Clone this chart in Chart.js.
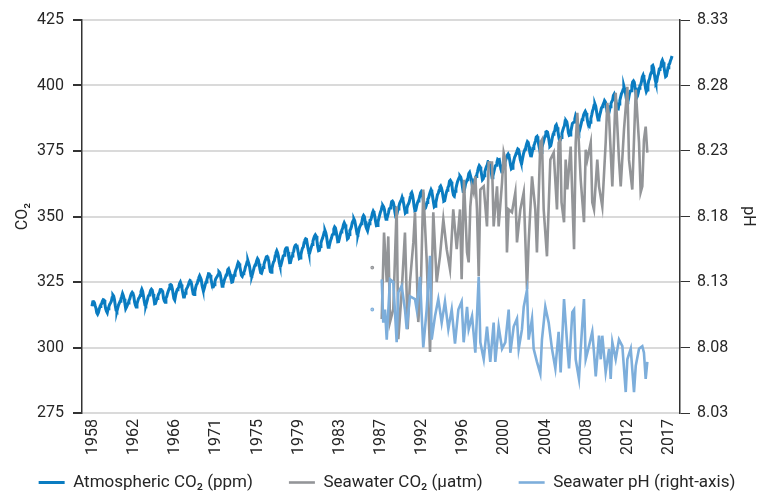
<!DOCTYPE html>
<html><head><meta charset="utf-8">
<script src="https://cdn.jsdelivr.net/npm/chart.js@4.4.1/dist/chart.umd.min.js"></script>
<style>html,body{margin:0;padding:0;background:#fff;} #wrap{width:774px;height:495px;}</style>
</head><body><div id="wrap"><canvas id="c" width="774" height="495"></canvas></div>
<script>
// Atmospheric CO2 (ppm), monthly from March 1958
const atmStartYear = 1958, atmStartMonth = 3;
const atmCO2 = [
315.71,317.45,317.50,317.10,315.86,314.93,313.20,312.66,313.33,314.67,
315.62,316.38,316.71,317.72,318.29,318.15,316.54,314.80,313.84,313.26,314.80,315.58,
316.43,316.97,317.58,319.02,320.03,319.59,318.18,315.91,314.16,313.83,315.00,316.19,
316.93,317.70,318.54,319.48,320.58,319.77,318.57,316.79,314.80,315.38,316.10,317.01,
317.94,318.55,319.68,320.57,321.02,320.62,319.61,317.40,316.25,315.42,316.69,317.70,
318.74,319.07,319.86,321.38,322.25,321.48,319.74,317.77,316.21,315.99,317.12,318.31,
319.57,320.07,320.73,321.77,322.25,321.89,320.44,318.70,316.70,316.79,317.79,318.71,
319.44,320.44,320.89,322.13,322.16,321.87,321.39,318.81,317.81,317.30,318.87,319.42,
320.62,321.59,322.39,323.87,324.01,323.75,322.39,320.37,318.64,318.10,319.79,321.08,
322.07,322.50,323.04,324.42,325.00,324.09,322.55,320.92,319.31,319.31,320.72,321.96,
322.57,323.15,323.89,325.02,325.57,325.36,324.14,322.03,320.41,320.25,321.31,322.84,
324.00,324.42,325.64,326.66,327.38,326.70,325.89,323.67,322.38,321.78,322.85,324.12,
325.03,325.99,326.87,328.13,328.07,327.66,326.35,324.69,323.10,323.16,323.98,325.13,
326.17,326.68,327.18,327.78,328.92,328.57,327.34,325.46,323.36,323.57,324.80,326.01,
326.77,327.63,327.75,329.72,330.07,329.09,328.05,326.32,324.93,325.06,326.50,327.55,
328.54,329.56,330.30,331.50,332.48,332.07,330.87,329.31,327.51,327.18,328.16,328.64,
329.35,330.71,331.48,332.65,333.19,332.16,331.07,329.12,327.32,327.28,328.30,329.58,
330.73,331.46,331.90,333.17,333.94,333.45,331.98,329.95,328.50,328.34,329.37,330.58,
331.59,332.75,333.52,334.64,334.77,334.00,333.06,330.68,328.95,328.75,330.15,331.62,
332.66,333.13,334.95,336.13,336.93,336.17,334.88,332.56,331.29,331.27,332.41,333.60,
334.95,335.25,336.66,337.69,338.03,338.01,336.41,334.41,332.37,332.41,333.75,334.90,
336.14,336.69,338.27,338.96,339.21,339.26,337.54,335.75,333.98,334.19,335.31,336.81,
337.90,338.34,340.01,340.93,341.48,341.33,339.40,337.70,336.19,336.15,337.27,338.32,
339.29,340.55,341.61,342.53,343.03,342.54,340.78,338.44,336.95,337.08,338.58,339.88,
340.96,341.73,342.81,343.97,344.63,343.79,342.32,340.09,338.28,338.29,339.60,340.90,
341.68,342.90,343.33,345.25,346.03,345.63,344.19,342.27,340.35,340.38,341.59,343.05,
344.10,344.79,345.52,346.84,347.63,346.98,345.53,343.55,341.40,341.67,343.10,344.70,
345.21,346.16,347.74,348.34,349.06,348.38,346.72,345.02,343.27,343.13,344.49,345.88,
346.56,347.28,348.01,349.77,350.38,349.93,348.16,346.08,345.22,344.51,345.93,347.21,
348.52,348.73,349.73,351.31,352.09,351.53,350.11,348.08,346.52,346.59,347.96,349.16,
350.39,351.64,352.41,353.69,354.21,353.72,352.69,350.40,348.92,349.13,350.20,351.41,
352.91,353.27,353.96,355.64,355.86,355.37,353.99,351.81,350.05,350.25,351.49,352.85,
353.80,355.04,355.73,356.32,357.32,356.34,354.84,353.01,351.31,351.62,353.07,354.33,
354.84,355.73,357.23,358.66,359.13,358.13,356.19,353.85,352.25,352.35,353.81,355.12,
355.89,356.63,357.72,359.07,359.58,359.17,356.94,354.92,352.94,353.23,354.09,355.33,
356.63,357.10,358.32,359.41,360.23,359.55,357.53,355.48,353.67,353.95,355.30,356.78,
358.34,358.89,359.95,361.25,361.67,360.94,359.55,357.49,355.84,356.00,357.59,359.05,
359.98,361.03,361.66,363.48,363.82,363.30,361.94,359.50,358.11,357.80,359.61,360.74,
362.09,363.29,364.06,364.76,365.45,365.01,363.70,361.54,359.51,359.65,360.80,362.38,
363.23,364.06,364.61,366.40,366.84,365.68,364.52,362.57,360.24,360.83,362.49,364.34,
365.27,365.98,367.24,368.66,369.42,368.99,367.82,365.95,364.02,364.40,365.52,367.13,
368.18,369.07,369.68,370.99,370.96,370.30,369.45,366.90,364.81,365.37,366.72,368.10,
369.29,369.54,370.60,371.82,371.58,371.70,369.86,368.13,367.00,367.03,368.37,369.67,
370.59,371.51,372.43,373.37,373.85,373.22,371.50,369.61,368.18,368.45,369.76,371.24,
372.53,373.20,374.12,375.02,375.76,375.52,374.01,371.85,370.75,370.55,372.25,373.79,
374.88,375.64,376.45,377.73,378.60,378.28,376.70,374.38,373.17,373.14,374.66,375.99,
377.00,377.87,378.88,380.35,380.62,379.69,377.47,376.01,374.25,374.46,376.16,377.51,
378.46,379.73,380.77,382.29,382.45,382.21,380.74,378.74,376.70,377.00,378.35,380.11,
381.38,382.19,382.67,384.61,385.03,384.05,382.46,380.41,378.85,379.13,380.15,381.82,
382.89,383.90,384.58,386.50,386.56,386.10,384.50,381.99,380.96,381.12,382.45,383.95,
385.52,385.82,386.03,387.21,388.54,387.76,386.36,384.09,383.18,382.99,384.19,385.56,
386.94,387.48,388.82,389.55,390.14,389.48,388.03,386.11,384.74,384.43,386.02,387.42,
388.71,390.20,391.17,392.46,393.00,392.15,390.20,388.35,386.85,387.24,388.67,389.79,
391.33,391.86,392.60,393.25,394.19,393.74,392.51,390.13,389.08,389.00,390.28,391.86,
393.12,393.86,394.40,396.18,396.74,395.71,394.36,392.39,391.11,391.05,392.98,394.34,
395.55,396.80,397.43,398.41,399.78,398.60,397.32,395.20,393.45,393.70,395.16,396.84,
397.85,398.01,399.77,401.38,401.78,401.25,399.10,397.03,395.38,396.03,397.28,398.91,
399.98,400.28,401.54,403.28,403.96,402.80,401.31,398.93,397.63,398.29,400.16,401.85,
402.52,404.04,404.83,407.42,407.70,406.81,404.39,402.25,401.03,401.57,403.53,404.42,
406.07,406.64,407.05,408.95,409.65,408.84,407.07,405.07,403.38,403.64,405.14,406.81,
407.96,408.32,409.41,410.24,411.24
];

// Seawater CO2 (µatm)
const swYears = [1987.24,
1988.22,1988.46,1988.74,1988.90,1989.08,1989.42,1989.77,1989.94,1990.29,1990.63,1990.91,1991.15,1991.50,1991.67,
1992.01,1992.29,1992.53,1992.88,1993.23,1993.57,1993.92,1994.26,1994.61,1994.96,1995.30,1995.64,1996.00,1996.34,
1996.51,1996.75,1997.07,1997.24,1997.41,1997.59,1997.76,1997.93,1998.10,1998.28,1998.45,1998.80,1999.14,1999.31,
1999.66,1999.83,2000.00,2000.18,2000.35,2000.70,2000.87,2001.04,2001.21,2001.39,2001.73,2002.08,2002.25,2002.60,
2002.95,2003.29,2003.46,2003.81,2004.15,2004.32,2004.67,2004.84,2005.02,2005.36,2005.71,2006.06,2006.40,2006.57,
2006.74,2006.87,2007.13,2007.30,2007.47,2007.82,2008.17,2008.34,2008.51,2008.86,2009.20,2009.38,2009.54,2009.90,
2010.06,2010.24,2010.58,2010.76,2011.10,2011.45,2011.62,2011.80,2012.14,2012.49,2012.83,2013.01,2013.35,2013.70,
2013.87,2014.21,2014.57,2014.91,2015.08,2015.25,2015.42,2015.60,2015.77];
const swCO2 = [330.5,
310.9,343.9,325.0,342.4,309.7,314.7,353.8,303.2,321.1,343.9,307.0,325.0,340.1,351.6,
309.7,325.0,360.3,333.7,298.3,351.6,325.0,334.8,348.9,337.5,329.9,352.7,337.5,352.7,
326.1,364.0,336.3,332.5,353.8,361.5,359.2,365.3,352.7,327.2,360.3,361.5,346.2,370.6,
370.6,346.2,353.8,361.5,346.2,363.0,374.4,371.7,336.3,352.7,351.6,359.2,340.1,352.7,
359.2,322.3,340.1,365.3,352.7,336.3,378.2,379.3,352.7,334.8,371.7,374.4,352.7,378.2,
379.3,355.4,347.8,371.7,360.3,376.7,337.5,378.2,389.6,364.1,347.8,375.5,371.7,378.2,
355.4,352.7,371.7,361.5,353.8,378.2,393.4,388.1,361.5,397.2,371.7,361.5,383.1,399.5,
371.7,360.3,398.4,378.2,359.2,361.5,379.3,384.3,374.4];

// Seawater pH (right axis)
const phYears = [1987.24,
1988.22,1988.38,1988.56,1988.74,1989.08,1989.42,1989.77,1989.94,1990.29,1990.63,1990.81,1991.15,1991.67,1991.85,
1992.19,1992.37,1992.53,1992.88,1993.23,1993.40,1993.75,1994.09,1994.44,1994.78,1995.13,1995.48,1995.82,1996.17,
1996.51,1996.72,1997.07,1997.24,1997.59,1997.93,1998.28,1998.45,1998.80,1999.14,1999.48,1999.83,2000.00,2000.35,
2000.70,2001.04,2001.39,2001.56,2001.91,2002.25,2002.43,2002.77,2002.95,2003.29,2003.46,2003.81,2003.98,2004.32,
2004.67,2004.84,2005.19,2005.54,2005.88,2006.23,2006.57,2006.78,2007.13,2007.47,2007.65,2007.99,2008.17,2008.34,
2008.68,2008.86,2009.20,2009.38,2009.72,2010.06,2010.24,2010.42,2010.76,2010.94,2011.10,2011.45,2011.80,2011.97,
2012.14,2012.49,2012.83,2013.18,2013.53,2013.70,2014.05,2014.39,2014.57,2014.91,2015.25,2015.42,2015.60,2015.77];
const phValues = [8.109,
8.132,8.099,8.109,8.086,8.132,8.130,8.084,8.122,8.127,8.109,8.094,8.119,8.117,8.109,
8.134,8.104,8.080,8.109,8.150,8.086,8.104,8.117,8.099,8.115,8.094,8.109,8.083,8.109,
8.115,8.084,8.111,8.094,8.104,8.076,8.134,8.084,8.071,8.096,8.069,8.099,8.069,8.096,
8.079,8.084,8.109,8.076,8.096,8.102,8.079,8.094,8.111,8.124,8.086,8.102,8.079,8.069,
8.060,8.086,8.111,8.099,8.079,8.064,8.092,8.061,8.117,8.081,8.064,8.107,8.109,8.071,
8.056,8.079,8.117,8.071,8.081,8.092,8.076,8.058,8.089,8.071,8.089,8.061,8.079,8.056,
8.084,8.071,8.086,8.081,8.046,8.071,8.079,8.046,8.066,8.079,8.081,8.076,8.056,8.069];

const xTickLabels = ['1958','1962','1966','1971','1975','1979','1983','1987','1992','1996','2000','2004','2008','2012','2017'];
const co2Ticks = [275,300,325,350,375,400,425];
const phTicks = [8.03,8.08,8.13,8.18,8.23,8.28,8.33];
const seriesLabels = ['Atmospheric CO\u2082 (ppm)','Seawater CO\u2082 (\u00b5atm)','Seawater pH (right-axis)'];

// ---- build chart ----
const FONT = 'Roboto, "Open Sans", "Noto Sans", sans-serif';
const TXT = '#262626';
const colors = ['#0a7cc1','#939598','#7daedb'];
const xFirstTick = 1958.27, xLastTick = 2018.02;
const xTickPos = xTickLabels.map((l,i)=> xFirstTick + i*(xLastTick-xFirstTick)/(xTickLabels.length-1));

const atmData = atmCO2.map((v,i)=>({x: atmStartYear + (atmStartMonth-1+i)/12, y: v}));
const swData = swYears.map((x,i)=>({x, y: swCO2[i]}));
const phData = phYears.map((x,i)=>({x, y: phValues[i]}));

function isolatedRadius(ctx){
  const d = ctx.dataset.data, i = ctx.dataIndex;
  if (!d || !d[i]) return 0;
  const gapPrev = i===0 ? 99 : d[i].x - d[i-1].x;
  const gapNext = i===d.length-1 ? 99 : d[i+1].x - d[i].x;
  return (gapPrev > 0.6 && gapNext > 0.6) ? 0.6 : 0;
}

// legend is laid out below the rotated year labels, then lifted to its drawn position
const legendLift = {
  id: 'legendLift',
  afterLayout(chart){
    const lg = chart.legend; if (!lg) return;
    const dy = -27;
    lg.top += dy; lg.bottom += dy;
    if (lg.legendHitBoxes) lg.legendHitBoxes.forEach(h => { h.top += dy; });
  }
};

new Chart(document.getElementById('c'), {
  type: 'line',
  data: {
    datasets: [
      {label: seriesLabels[0], data: atmData, yAxisID: 'y', borderColor: colors[0], backgroundColor: colors[0],
       borderWidth: 3, pointRadius: 0, tension: 0, order: 3},
      {label: seriesLabels[1], data: swData, yAxisID: 'y', borderColor: colors[1], backgroundColor: colors[1],
       borderWidth: 2.6, pointRadius: isolatedRadius, pointBackgroundColor: colors[1], pointBorderColor: colors[1], tension: 0, spanGaps: 0.6, order: 2},
      {label: seriesLabels[2], data: phData, yAxisID: 'y1', borderColor: colors[2], backgroundColor: colors[2],
       borderWidth: 2.6, pointRadius: isolatedRadius, pointBackgroundColor: colors[2], pointBorderColor: colors[2], tension: 0, spanGaps: 0.6, order: 1}
    ]
  },
  plugins: [legendLift],
  options: {
    responsive: false, animation: false, devicePixelRatio: 1,
    layout: {padding: {left: 0, right: 0, top: 20, bottom: -33}},
    plugins: {
      tooltip: {enabled: false},
      legend: {
        position: 'bottom',
        labels: {
          usePointStyle: true, pointStyle: 'line', pointStyleWidth: 26,
          padding: 36, color: TXT, font: {family: FONT, size: 17},
          sort: (a,b)=> a.datasetIndex - b.datasetIndex
        }
      }
    },
    scales: {
      x: {
        type: 'linear', position: 'bottom', min: 1957.13, max: 2019.16,
        grid: {display: false, drawTicks: false}, border: {display: false},
        ticks: {color: TXT, font: {family: FONT, size: 16}, minRotation: 90, maxRotation: 90, padding: 6, autoSkip: false,
                callback: (v,i)=> xTickLabels[i]},
        afterBuildTicks: s => { s.ticks = xTickPos.map(v=>({value: v})); },
        afterFit: s => { s.height = 52; }
      },
      y: {
        position: 'left', min: 275, max: 425,
        grid: {color: '#dadada', lineWidth: 2, tickColor: '#333', tickLength: 9},
        border: {color: '#333', width: 1.5},
        ticks: {color: TXT, font: {family: FONT, size: 16}, padding: 9},
        afterBuildTicks: s => { s.ticks = co2Ticks.map(v=>({value: v})); },
        title: {display: true, text: 'CO\u2082', color: TXT, font: {family: FONT, size: 16}, padding: {top: 13, bottom: 0}},
        afterFit: s => { s.width = 82; }
      },
      y1: {
        position: 'right', min: 8.03, max: 8.33,
        grid: {drawOnChartArea: false, tickColor: '#333', tickLength: 10},
        border: {color: '#333', width: 1.5},
        ticks: {color: TXT, font: {family: FONT, size: 16}, padding: 7, callback: v => v.toFixed(2)},
        afterBuildTicks: s => { s.ticks = phTicks.map(v=>({value: v})); },
        title: {display: true, text: 'pH', color: TXT, font: {family: FONT, size: 16}, padding: {top: 16, bottom: 0}},
        afterFit: s => { s.width = 94; }
      }
    }
  }
});
</script>
</body></html>
